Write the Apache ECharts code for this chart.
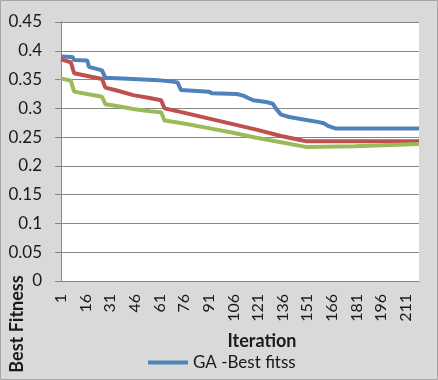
<!DOCTYPE html>
<html>
<head>
<meta charset="utf-8">
<script src="https://cdn.jsdelivr.net/npm/echarts@6/dist/echarts.min.js"></script>
<style>
	html, body { margin: 0; padding: 0; background: #d9d9d9; }
	#chart { width: 438px; height: 380px; }
</style>
</head>
<body>
<div id="chart"></div>
<script>
// x categories: iterations 1..219
var iterCount = 219;
var iterations = [];
for (var i = 1; i <= iterCount; i++) iterations.push(String(i));

// y ticks
var yMin = 0, yMax = 0.45, yStep = 0.05;

// [iteration, best fitness] at each corner of the curve
var gaBest = [
	[1, 0.390], [8, 0.389], [9, 0.384], [17, 0.383], [18, 0.372], [19, 0.370],
	[26, 0.366], [28, 0.353], [45, 0.351], [60, 0.349], [70, 0.346], [72, 0.345],
	[74, 0.332], [91, 0.329], [93, 0.326], [108, 0.325], [112, 0.322], [115, 0.318],
	[118, 0.314], [126, 0.311], [130, 0.308], [132, 0.299], [135, 0.289], [140, 0.285],
	[146, 0.282], [158, 0.276], [161, 0.274], [164, 0.269], [168, 0.265], [219, 0.265]
];
var redBest = [
	[1, 0.385], [7, 0.380], [9, 0.361], [26, 0.351], [28, 0.336], [35, 0.331],
	[45, 0.323], [55, 0.318], [62, 0.314], [64, 0.300], [75, 0.293], [90, 0.283],
	[105, 0.273], [120, 0.263], [135, 0.252], [148, 0.244], [150, 0.243], [219, 0.243]
];
var greenBest = [
	[1, 0.352], [7, 0.348], [9, 0.329], [26, 0.320], [28, 0.307], [35, 0.304],
	[45, 0.299], [55, 0.295], [62, 0.293], [64, 0.279], [75, 0.274], [90, 0.266],
	[105, 0.258], [120, 0.249], [135, 0.241], [150, 0.233], [180, 0.234], [219, 0.238]
];

var legendNames = ['GA -Best fitss'];

function toCat(list) {
	return list.map(function (p) { return [String(p[0]), p[1]]; });
}

function lineSeries(name, color, data) {
	return {
		name: name,
		type: 'line',
		data: toCat(data),
		showSymbol: false,
		symbol: 'none',
		lineStyle: { color: color, width: 4 },
		itemStyle: { color: color }
	};
}

var font = 'Lato';
var chart = echarts.init(document.getElementById('chart'));
chart.setOption({
	animation: false,
	backgroundColor: '#d9d9d9',
	grid: {
		left: 61, right: 19, top: 22, bottom: 99,
		show: true, backgroundColor: '#ffffff', borderWidth: 0,
		containLabel: false, outerBoundsMode: 'none'
	},
	legend: {
		data: legendNames,
		left: 148, top: 354, padding: 0,
		icon: 'rect', itemWidth: 40, itemHeight: 4, itemGap: 10,
		textStyle: { fontFamily: font, fontSize: 17, color: '#1a1a1a' }
	},
	xAxis: {
		type: 'category',
		data: iterations,
		boundaryGap: false,
		name: 'Iteration',
		nameLocation: 'middle',
		nameGap: 51,
		nameTextStyle: { fontFamily: font, fontSize: 18, fontWeight: 'bold', color: '#1a1a1a', padding: [0, 0, 0, 44] },
		axisLine: { lineStyle: { color: '#878787', width: 1 } },
		axisTick: { show: false },
		axisLabel: {
			interval: 14, rotate: 90, margin: 13,
			fontFamily: font, fontSize: 16, color: '#1a1a1a'
		},
		splitLine: { show: false }
	},
	yAxis: {
		type: 'value',
		min: yMin, max: yMax, interval: yStep,
		axisLine: { show: true, lineStyle: { color: '#878787', width: 1 } },
		axisTick: { show: true, length: 6, lineStyle: { color: '#878787' } },
		axisLabel: { margin: 19, fontFamily: font, fontSize: 17, color: '#1a1a1a' },
		splitLine: { lineStyle: { color: '#878787', width: 1 } }
	},
	graphic: [
		{
			type: 'rect', silent: true, z: -1,
			shape: { x: 0.5, y: 0.5, width: 437, height: 379 },
			style: { fill: null, stroke: '#a6a6a6', lineWidth: 1 }
		},
		{
			type: 'text', x: 17, y: 324, rotation: Math.PI / 2,
			style: {
				text: 'Best Fitness', align: 'center', verticalAlign: 'middle',
				font: 'bold 18px Lato', fill: '#1a1a1a'
			}
		}
	],
	series: [
		lineSeries('GA -Best fitss', '#4f81bd', gaBest),
		lineSeries('Series 2', '#c0504d', redBest),
		lineSeries('Series 3', '#9bbb59', greenBest)
	]
});
</script>
</body>
</html>
